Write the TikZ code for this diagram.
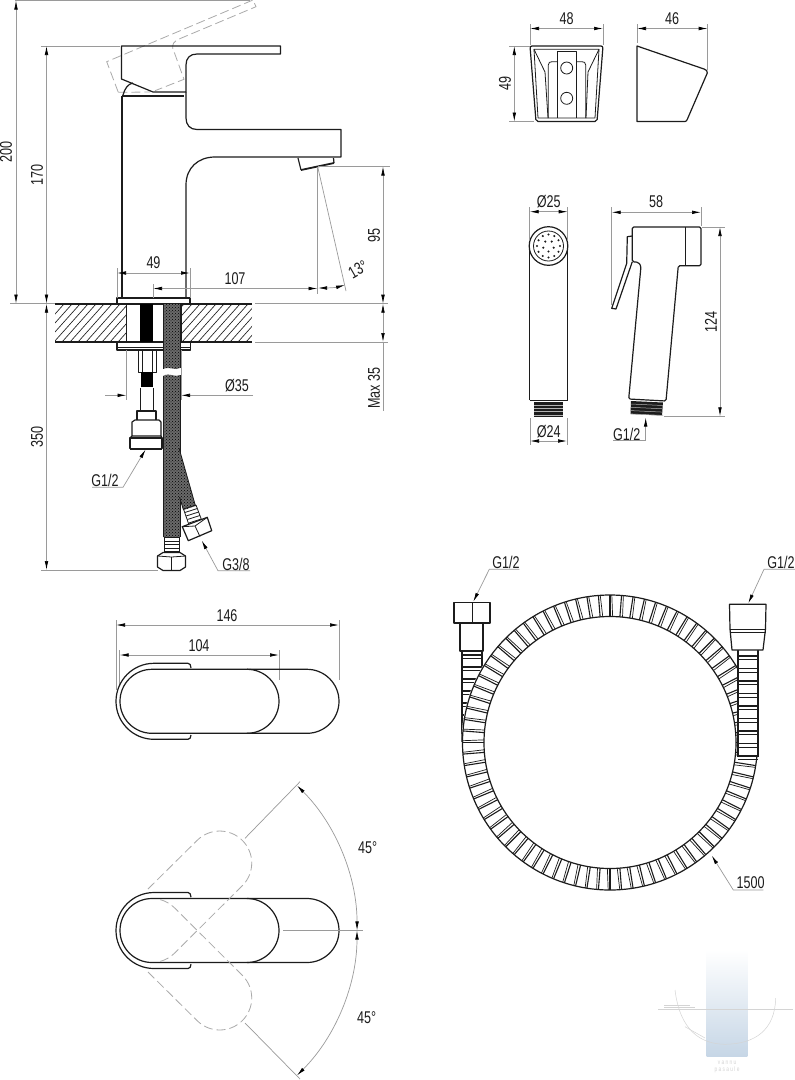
\documentclass[tikz,border=0pt]{standalone}
\usepackage{fontspec}
\setmainfont[FakeStretch=0.74]{Liberation Sans}
\usetikzlibrary{arrows.meta,calc,patterns}
\definecolor{ink}{HTML}{1C1C1C}
\definecolor{dimc}{HTML}{9A9A9A}
\definecolor{dashc}{HTML}{AAAAAA}
\definecolor{wmk}{HTML}{C6D6E6}
\definecolor{wml}{HTML}{D4D4D4}
\definecolor{braid}{HTML}{6A6A6A}
\tikzset{
 x=1pt,y=1pt,
 outl/.style={draw=ink,line width=1.2pt,line join=round},
 thin outl/.style={draw=ink,line width=0.8pt,line join=round},
 heavy/.style={draw=ink,line width=1.8pt},
 dimline/.style={draw=dimc,line width=0.7pt},
 dimarr/.style={dimline,{Latex[length=9pt,width=3.6pt,color=black]}-{Latex[length=9pt,width=3.6pt,color=black]}},
 dimtip/.style={dimline,-{Latex[length=9pt,width=3.6pt,color=black]}},
 dashl/.style={draw=dashc,line width=0.8pt,dash pattern=on 9pt off 4pt},
 lbl/.style={text=ink,font=\fontsize{17}{19}\selectfont,inner sep=0pt},
 braidfill/.style={preaction={fill=braid},pattern=crosshatch dots,pattern color=black},
}
\begin{document}
\begin{tikzpicture}[yscale=-1]
\useasboundingbox (0,0) rectangle (795,1080);
\fill[white] (0,0) rectangle (795,1080);

% ---------- watermark
\shade[top color=white,bottom color=wmk] (706.7,950) rectangle (747.3,1056);
\draw[wml,line width=0.5pt] (658,1009.5) -- (793,1009.5);
\draw[wml,line width=0.5pt] (664,1005) -- (690,1005) (664,1007) -- (695,1007);
\draw[wml,line width=0.5pt] (675,990) .. controls (680,1030) and (700,1044) .. (725,1044.3) .. controls (755,1044) and (775,1030) .. (775.7,998);
\draw[wml,line width=0.5pt] (685,1026.7) -- (705,1038);
\node[text=wml,font=\fontsize{6.5}{7}\selectfont,inner sep=0pt] (wma) at (727,1062.5) {v a n n u};
\node[text=wml,font=\fontsize{6.5}{7}\selectfont,inner sep=0pt] (wmb) at (727,1070) {p a s a u l e};

% ---------- faucet side view
\draw[dashl] (118.3,92.3) -- (106.7,61.7) -- (253,0) -- (256,6.7) -- (176.7,40) .. controls (174,41.5) and (172.5,44) .. (172.7,48) -- (184,79.3) -- (155,90.7);
\draw[dashl] (118.3,92.3) -- (150,92);
\draw[outl] (121.5,79) -- (121.5,46) -- (280.5,46) -- (280.5,54) -- (197,54) .. controls (190,54) and (186,58) .. (186,65) -- (186,92) -- (153,92) -- cycle;
\draw[outl] (123,95) .. controls (125,88) and (128,84) .. (133,83);
\draw[heavy] (122,96) -- (184,96);
\draw[outl] (122,96) -- (122,298);
\draw[outl] (186,92) -- (186,118) .. controls (186,125) and (190,129.5) .. (197,129.5) -- (341,129.5) -- (341,157) -- (215,157) .. controls (198,157) and (186,168) .. (186,185) -- (186,298);
\draw[outl] (298,158) -- (301,170);
\draw[outl] (333.5,158) -- (334,163);
\draw[heavy] (301,170) -- (334,163);
% collar above slab
\draw[outl] (117,303.5) -- (117,298) -- (190,298) -- (190,303.5);
% slab
\begin{scope}
\clip (55,304) rectangle (126.5,341.5) (181,304) rectangle (252,341.5);
\foreach \h in {0,8,...,240}{\draw[ink,line width=0.65pt] (\h+30,342) -- (\h+64,304);}
\end{scope}
\draw[heavy] (55,303.7) -- (252,303.7) (55,341.7) -- (252,341.7);
\draw[outl] (126.5,304) -- (126.5,342) (181,304) -- (181,342);
% collar below slab
\draw[outl] (117,342) -- (117,350) -- (190.5,350) -- (190.5,342);
\draw[thin outl] (117,347) -- (190.5,347);
% supply pipes
\fill[black] (140,304) rectangle (152.5,342);
\fill[braidfill] (163,304) -- (180,304) -- (180,368) .. controls (175,371) and (170,366) .. (163,369) -- cycle;
\fill[braidfill] (163,376) .. controls (170,372) and (175,378) .. (180,375) -- (180,537) -- (163,537) -- cycle;
\draw[thin outl] (163,304) -- (163,369) (180,304) -- (180,368) (163,376) -- (163,537) (180,375) -- (180,537);
\fill[braidfill] (179,448) -- (195.5,506) -- (183.5,510) -- (179.5,497) -- cycle;
\draw[thin outl] (179,448) -- (195.5,506) (179.5,497) -- (183.5,510);
% threads lower branch
\foreach \t in {0,1,2,3,4}{\draw[thin outl] (183.5+\t*1.3,509+\t*3.5) -- (196+\t*1.3,505+\t*3.5);}
\draw[thin outl] (183.5,509) -- (189,525) (196,505) -- (202,521);
\draw[outl,fill=white] (182.3,526.7) -- (207.3,517.3) -- (211.7,530.7) -- (188.3,540.7) -- cycle;
\draw[thin outl] (195,526) -- (200,536.5) (182.3,526.7) -- (195,526) -- (207.3,517.3);
% threads lower main
\foreach \t in {0,...,4}{\draw[thin outl] (164,537.5+\t*3.5) -- (179,537.5+\t*3.5);}
\draw[thin outl] (164,537) -- (164,553) (179,537) -- (179,553);
\draw[outl,fill=white] (157.5,556) -- (163,552.5) -- (180,552.5) -- (185.5,556) -- (185.5,567) -- (180,570.5) -- (163,570.5) -- (157.5,567) -- cycle;
\draw[thin outl] (171.5,557) -- (171.5,570.5) (157.5,556) -- (171.5,557) -- (185.5,556);
% left connector
\draw[thin outl] (138,350) rectangle (156,372);
\draw[thin outl] (142,351) -- (142,372) (152,351) -- (152,372);
\fill[black] (141,372) rectangle (153,387);
\draw[thin outl] (140.5,388) -- (140.5,411) (153,388) -- (153,411);
\draw[outl] (137,420) -- (137,411) -- (156,411) -- (156,420);
\draw[outl] (132,436) -- (132,422) -- (135,420) -- (159,420) -- (161,422) -- (161,436) -- cycle;
\draw[outl] (130,438) rectangle (162,448.5);
\draw[heavy] (130,449) -- (162,449);
\draw[outl] (132,436) -- (130,438) (161,436) -- (162,438);

% dimensions faucet
\draw[dimline] (15,0.5) -- (250,0.5);
\draw[dimarr] (16,0.5) -- (16,303.5);
\node[lbl,rotate=90] (d200) at (6,152) {200};
\draw[dimline] (41,46) -- (120,46);
\draw[dimarr] (46.5,46) -- (46.5,303.5);
\node[lbl,rotate=90] (d170) at (37,175) {170};
\draw[dimline] (10,303.7) -- (55,303.7);
\draw[dimarr] (46.5,303.7) -- (46.5,570);
\node[lbl,rotate=90] (d350) at (37,437) {350};
\draw[dimline] (41,570.5) -- (158,570.5);
\draw[dimline] (318,166.5) -- (390,166.5);
\draw[dimarr] (383,166.5) -- (383,303.7);
\node[lbl,rotate=90] (d95) at (374,235) {95};
\draw[dimline] (255,303.7) -- (388,303.7) (255,342) -- (388,342);
\draw[dimarr] (383,303.7) -- (383,342);
\draw[dimline] (383,342) -- (383,411);
\node[lbl,rotate=90] (dmax) at (374,388) {Max 35};
\draw[dimline] (117,268) -- (117,298) (190,268) -- (190,298);
\draw[dimarr] (117,273) -- (190,273);
\node[lbl] (d49) at (153.5,263) {49};
\draw[dimline] (153,284) -- (153,298);
\draw[dimarr] (153,288.5) -- (317.5,288.5);
\node[lbl] (d107) at (235,279) {107};
\draw[dimline] (317.5,168) -- (317.5,294);
\draw[dimline] (318,168) -- (346,291);
\draw[dimarr] (318,288) .. controls (327,288) and (336,287.5) .. (345,285);
\node[lbl,rotate=30] (d13) at (358,269.5) {13°};
\draw[dimline] (126.5,350) -- (126.5,400) (181,350) -- (181,400);
\draw[dimtip] (105,395.3) -- (126.5,395.3);
\draw[dimtip] (253,395.3) -- (181,395.3);
\node[lbl] (d35) at (237,386) {Ø35};
\draw[dimtip] (92,487.3) -- (123,487.3) -- (145.6,449.5);
\node[lbl] (g12a) at (105,480.5) {G1/2};
\draw[dimtip] (250,570.7) -- (218,570.7) -- (201.7,540.5);
\node[lbl] (g38) at (236,564) {G3/8};

% ---------- bracket
\draw[outl,rounded corners=2pt] (530,46) -- (603,46) -- (597,121.5) -- (536,121.5) -- cycle;
\draw[thin outl] (534,49.3) -- (599,49.3) -- (595,118) -- (538,118) -- cycle;
\draw[thin outl] (534,49.3) -- (545,72) -- (548,118) (599,49.3) -- (588,72) -- (586,118);
\draw[thin outl] (548.3,118) -- (548.3,65) .. controls (548.3,62.5) and (550,61.7) .. (552,61.7) -- (557.3,61.7) (585.7,118) -- (585.7,65) .. controls (585.7,62.5) and (584,61.7) .. (582,61.7) -- (576.7,61.7);
\draw[thin outl] (557.3,118) -- (557.3,51.7) -- (576.7,51.7) -- (576.7,118);
\draw[thin outl] (566.7,68) circle[radius=6pt] (566.7,98.3) circle[radius=6pt];
\draw[dimline] (530,24) -- (530,45) (603,24) -- (603,45);
\draw[dimarr] (530,28.5) -- (603,28.5);
\node[lbl] (d48) at (566.7,19) {48};
\draw[dimline] (509,46) -- (530,46) (509,121.5) -- (534,121.5);
\draw[dimarr] (514.3,46) -- (514.3,121.5);
\node[lbl,rotate=90] (d49b) at (505,83) {49};
\draw[outl] (637,46) -- (637,121.5) -- (685,121.5) .. controls (686,121.5) and (687,120.5) .. (687.3,119.3) -- (707.3,73) .. controls (708,71) and (706,69.8) .. (704,69) -- cycle;
\draw[dimline] (637,24) -- (637,43) (707.7,24) -- (707.7,70);
\draw[dimarr] (637,28.5) -- (707.7,28.5);
\node[lbl] (d46) at (672,19) {46};

% ---------- hand shower front
\draw[outl] (529.7,246) -- (529.7,400) (567.7,246) -- (567.7,400);
\draw[outl,fill=white] (548.5,246) circle[radius=19.3pt];
\draw[thin outl] (548.5,246) circle[radius=15pt];
\foreach \a in {0,30,...,330}{\fill[ink] ($(548.5,246)+(\a:11.5)$) circle[radius=1.2pt];}
\foreach \a in {18,90,162,234,306}{\fill[ink] ($(548.5,246)+(\a:5.5)$) circle[radius=1.2pt];}
\draw[heavy] (529.7,400.5) -- (567.7,400.5);
\fill[ink] (534,402) rectangle (563,416.5);
\foreach \t in {0,...,3}{\draw[white!70!black,line width=0.5pt] (534,405+\t*3.3) -- (563,405+\t*3.3);}
\draw[dimline] (529.7,207) -- (529.7,240) (567.7,207) -- (567.7,240);
\draw[dimarr] (529.7,211.7) -- (567.7,211.7);
\node[lbl] (d25) at (548.7,202) {Ø25};
\draw[dimline] (530,418) -- (530,445) (567,418) -- (567,445);
\draw[dimarr] (530,441) -- (567,441);
\node[lbl] (d24) at (548.7,432) {Ø24};
% hand shower side
\draw[outl,rounded corners=1.5pt] (632.3,261.7) -- (632.3,227) -- (701,227) -- (701,265.7) -- (678.3,265.7) -- (666,401) -- (628.7,399) -- (641,266) -- (638.3,262.3) -- cycle;
\draw[thin outl] (685.3,227) -- (685.3,265.7);
\draw[outl] (632.3,236) -- (627.3,236.7) -- (626.7,263.3) -- (611.7,308.3) -- (616,309) -- (632.3,261.7);
\fill[ink] (631,401) -- (663,402.5) -- (662,415.5) -- (630.5,414) -- cycle;
\foreach \t in {0,...,3}{\draw[white!70!black,line width=0.5pt] (631,404+\t*3.3) -- (663,405.5+\t*3.3);}
\draw[dimline] (611.7,207) -- (611.7,305) (701,207) -- (701,226);
\draw[dimarr] (611.7,212.3) -- (701,212.3);
\node[lbl] (d58) at (656,202) {58};
\draw[dimline] (702,227) -- (725,227) (664,416.3) -- (725,416.3);
\draw[dimarr] (720,227) -- (720,416.3);
\node[lbl,rotate=90] (d124) at (711,322) {124};
\draw[dimtip] (613.3,440.7) -- (645.7,440.7) -- (645.7,417.5);
\node[lbl] (g12b) at (626.7,434) {G1/2};

% ---------- hose
\draw[outl] (462,652) -- (462,742) (482,652) -- (482,742);
\foreach \s in {0,...,7}{\draw[outl] (462,655+\s*12) -- (482,655+\s*12); \draw[thin outl] (462,658.5+\s*12) -- (482,658.5+\s*12);}
\draw[outl,fill=white] (454,602.7) rectangle (490,623);
\draw[thin outl] (472,602.7) -- (472,623);
\draw[outl,fill=white] (460,623) rectangle (483,651);
\begin{scope}[shift={(610,742.5)}]
\fill[white,even odd rule] (0,0) circle[radius=148.5pt] (0,0) circle[radius=126pt];
\draw[outl] (0,0) circle[radius=147.5pt] (0,0) circle[radius=126pt];
\foreach \a in {0,4.5,...,355.5}{
 \draw[ink,line width=1.1pt] (\a:126) -- (\a:147.5);
 \draw[ink,line width=0.7pt] (\a+1.2:126) -- (\a+0.7:147.5);
}
\end{scope}
\fill[white] (738,650) rectangle (758,757);
\draw[outl] (738,650) -- (738,757) (758,650) -- (758,757);
\foreach \s in {0,...,8}{\draw[outl] (738,656+\s*12.5) -- (758,656+\s*12.5); \draw[thin outl] (738,659.5+\s*12.5) -- (758,659.5+\s*12.5);}
\draw[outl,fill=white] (729.5,604.3) -- (766,604.3) -- (765.5,629) -- (763,650) -- (732,650) -- (730,629) -- cycle;
\draw[thin outl] (730,629) -- (765.5,629) (730,632) -- (765.5,632);
\draw[dimtip] (519.3,569.3) -- (489.3,569.3) -- (473.3,601.7);
\node[lbl] (g12c) at (506,562.7) {G1/2};
\draw[dimtip] (795,569.3) -- (764,569.3) -- (748.3,603.3);
\node[lbl] (g12d) at (781,562.7) {G1/2};
\draw[dimtip] (763.3,890) -- (733.3,890) -- (711.7,855.5);
\node[lbl] (d1500) at (750.7,883) {1500};

% ---------- top view 1
\draw[dimline] (116,620) -- (116,690) (339,620) -- (339,680);
\draw[dimarr] (116,625) -- (339,625);
\node[lbl] (d146) at (227,615.5) {146};
\draw[dimline] (119.7,650) -- (119.7,685) (279,650) -- (279,680);
\draw[dimarr] (119.7,655) -- (279,655);
\node[lbl] (d104) at (199,646) {104};
\foreach \dy in {0,229.2}{
 \draw[outl] (152,669.3+\dy) -- (307,669.3+\dy) arc[start angle=-90,end angle=90,radius=32pt] -- (152,733.3+\dy) arc[start angle=90,end angle=270,radius=32pt];
 \draw[outl] (247,669.3+\dy) arc[start angle=-90,end angle=90,radius=32pt];
 \draw[outl] (191,668+\dy) .. controls (190.8,665+\dy) and (190,663.3+\dy) .. (188,663.3+\dy) -- (154,663.3+\dy) arc[start angle=-90,end angle=-270,radius=38pt] -- (188,739.3+\dy) .. controls (190,739.3+\dy) and (190.8,737.5+\dy) .. (191,735+\dy);
}
% ---------- top view 2
\draw[dashl] (148,889) -- (197.1,840.4) arc[start angle=-135,end angle=45,radius=32pt] -- (174.6,953.1) arc[start angle=45,end angle=75,radius=32pt];
\draw[dashl] (148,972) -- (197.1,1020.6) arc[start angle=135,end angle=-45,radius=32pt] -- (174.6,907.9) arc[start angle=-45,end angle=-75,radius=32pt];
\draw[dimline] (283,930.8) -- (363,930.8);
\draw[dimline] (245,838.3) -- (300,781.7);
\draw[dimline] (245,1023) -- (300,1079);
\draw[dimarr] (297,785.5) arc[start angle=-45,end angle=0,radius=205pt];
\draw[dimarr] (357,930.5) arc[start angle=0,end angle=45,radius=205pt];
\node[lbl] (d45a) at (367.7,848) {45°};
\node[lbl] (d45b) at (366.7,1018) {45°};
\end{tikzpicture}
\end{document}
